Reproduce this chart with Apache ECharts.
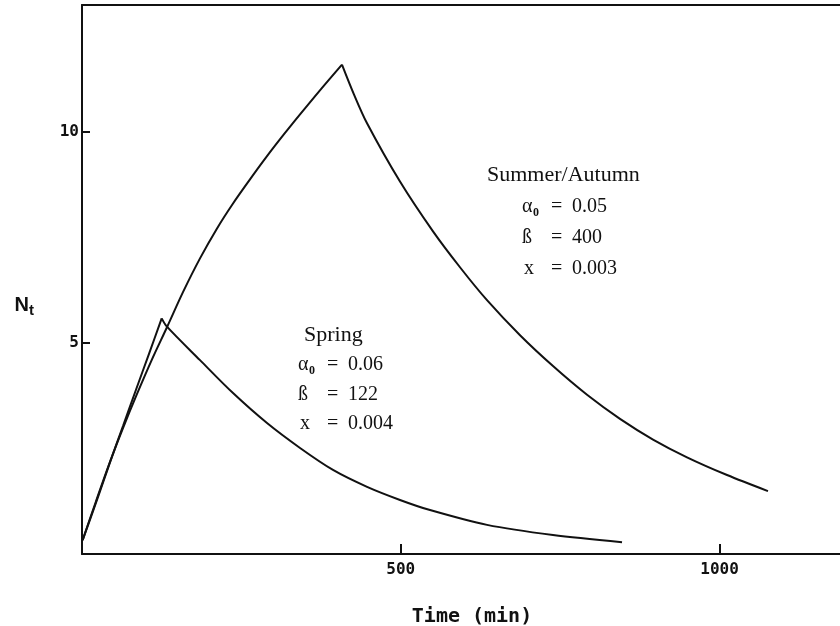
<!DOCTYPE html>
<html><head><meta charset="utf-8">
<script src="https://cdn.jsdelivr.net/npm/echarts@6/dist/echarts.min.js"></script>
<style>html,body{margin:0;padding:0;background:#fff}#c{width:840px;height:626px}</style>
</head><body><div id="c"></div>
<script>
// Time (min) and N_t values
const springRiseT = [1, 23.5, 43.9, 64.3, 84.7, 105.1, 125.0];
const springRiseN = [0.33, 1.28, 2.17, 3.03, 3.89, 4.74, 5.58];
const springDecayT = [125.0, 132.9, 185.1, 236.9, 290.2, 342.0, 393.7, 447.1, 498.8, 545.9, 635.3, 738.8, 847.1];
const springDecayN = [5.58, 5.39, 4.59, 3.81, 3.10, 2.51, 1.99, 1.59, 1.28, 1.04, 0.69, 0.45, 0.28];
const summerRiseT = [1, 22.0, 43.9, 64.3, 86.3, 109.8, 133.3, 158.4, 185.1, 211.8, 236.9, 263.5, 290.2, 316.9, 342.0, 374.9, 407.8];
const summerRiseN = [0.33, 1.25, 2.18, 2.98, 3.79, 4.61, 5.37, 6.20, 7.00, 7.71, 8.30, 8.87, 9.42, 9.94, 10.41, 11.01, 11.59];
const summerDecayT = [407.8, 426.7, 447.1, 498.8, 550.6, 592.9, 635.3, 687.1, 738.8, 792.2, 843.9, 895.7, 949.0, 1011.8, 1076.0];
const summerDecayN = [11.59, 10.88, 10.20, 8.82, 7.64, 6.79, 6.01, 5.18, 4.45, 3.77, 3.20, 2.71, 2.29, 1.87, 1.49];
const xLabel = 'Time (min)';
const springLabel = 'Spring';
const springParams = [['α', '0', '0.06'], ['ß', '', '122'], ['x', '', '0.004']];
const summerLabel = 'Summer/Autumn';
const summerParams = [['α', '0', '0.05'], ['ß', '', '400'], ['x', '', '0.003']];

const zip = (a, b) => a.map((v, i) => [v, b[i]]);
const ink = '#111';
const mono = '"DejaVu Sans Mono", monospace';
const serif = '"Liberation Serif", serif';

function paramTexts(params, x0, y0, dy) {
  const out = [];
  params.forEach((p, i) => {
    const y = y0 + i * dy;
    out.push({type: 'text', x: x0 + (p[0] === 'x' ? 2 : 0), y: y,
      style: {text: p[0], font: '20px ' + serif, fill: ink, verticalAlign: 'middle'}});
    if (p[1]) out.push({type: 'text', x: x0 + 11, y: y + 6,
      style: {text: p[1], font: 'bold 12px ' + serif, fill: ink, verticalAlign: 'middle'}});
    out.push({type: 'text', x: x0 + 29, y: y,
      style: {text: '=', font: '20px ' + serif, fill: ink, verticalAlign: 'middle'}});
    out.push({type: 'text', x: x0 + 50, y: y,
      style: {text: p[2], font: '20px ' + serif, fill: ink, verticalAlign: 'middle'}});
  });
  return out;
}

const chart = echarts.init(document.getElementById('c'), null, {renderer: 'canvas'});
const lineBase = {type: 'line', showSymbol: false, smooth: 0.3, animation: false,
  lineStyle: {color: ink, width: 2}, itemStyle: {color: ink}};
const plain = v => String(v);

chart.setOption({
  backgroundColor: '#fff',
  animation: false,
  grid: {left: 82, right: 0, top: 5, bottom: 72, containLabel: false, outerBoundsMode: 'none'},
  xAxis: [{
    type: 'value', min: 0, max: 1189, interval: 500, position: 'bottom',
    axisLine: {show: true, onZero: false, lineStyle: {color: ink, width: 2}},
    axisTick: {show: true, inside: true, length: 10, lineStyle: {color: ink, width: 2}},
    axisLabel: {showMinLabel: false, showMaxLabel: false, fontFamily: mono, fontSize: 16,
      fontWeight: 'bold', color: ink, margin: 8, formatter: plain},
    splitLine: {show: false},
    name: xLabel, nameLocation: 'middle', nameGap: 53,
    nameTextStyle: {fontFamily: mono, fontSize: 20, fontWeight: 'bold', color: ink, padding: [0, 0, 0, 22]}
  }, {
    type: 'value', min: 0, max: 1189, position: 'top',
    axisLine: {show: true, onZero: false, lineStyle: {color: ink, width: 2}},
    axisTick: {show: false}, axisLabel: {show: false}, splitLine: {show: false}
  }],
  yAxis: {
    type: 'value', min: 0, max: 13, interval: 5,
    axisLine: {show: true, onZero: false, lineStyle: {color: ink, width: 2}},
    axisTick: {show: true, inside: true, length: 8, lineStyle: {color: ink, width: 2}},
    axisLabel: {showMinLabel: false, showMaxLabel: false, fontFamily: mono, fontSize: 16,
      fontWeight: 'bold', color: ink, margin: 3, formatter: plain},
    splitLine: {show: false},
    name: '{n|N}{t|t}', nameLocation: 'middle', nameRotate: 0, nameGap: 48,
    nameTextStyle: {
      padding: [52, 0, 0, 0],
      rich: {
        n: {fontFamily: '"Liberation Sans", sans-serif', fontWeight: 'bold', fontSize: 20, color: ink},
        t: {fontFamily: '"Liberation Sans", sans-serif', fontWeight: 'bold', fontSize: 15, color: ink, padding: [10, 0, 0, 0]}
      }
    }
  },
  series: [
    Object.assign({name: 'Spring', data: zip(springRiseT, springRiseN)}, lineBase),
    Object.assign({name: 'Spring', data: zip(springDecayT, springDecayN)}, lineBase),
    Object.assign({name: 'Summer/Autumn', data: zip(summerRiseT, summerRiseN)}, lineBase),
    Object.assign({name: 'Summer/Autumn', data: zip(summerDecayT, summerDecayN)}, lineBase)
  ],
  graphic: [
    {type: 'text', x: 304, y: 335, style: {text: springLabel, font: '22px ' + serif, fill: ink, verticalAlign: 'middle'}},
    {type: 'text', x: 487, y: 175, style: {text: summerLabel, font: '22px ' + serif, fill: ink, verticalAlign: 'middle'}}
  ].concat(paramTexts(springParams, 298, 365, 29.5), paramTexts(summerParams, 522, 207, 31))
});
</script>
</body></html>
